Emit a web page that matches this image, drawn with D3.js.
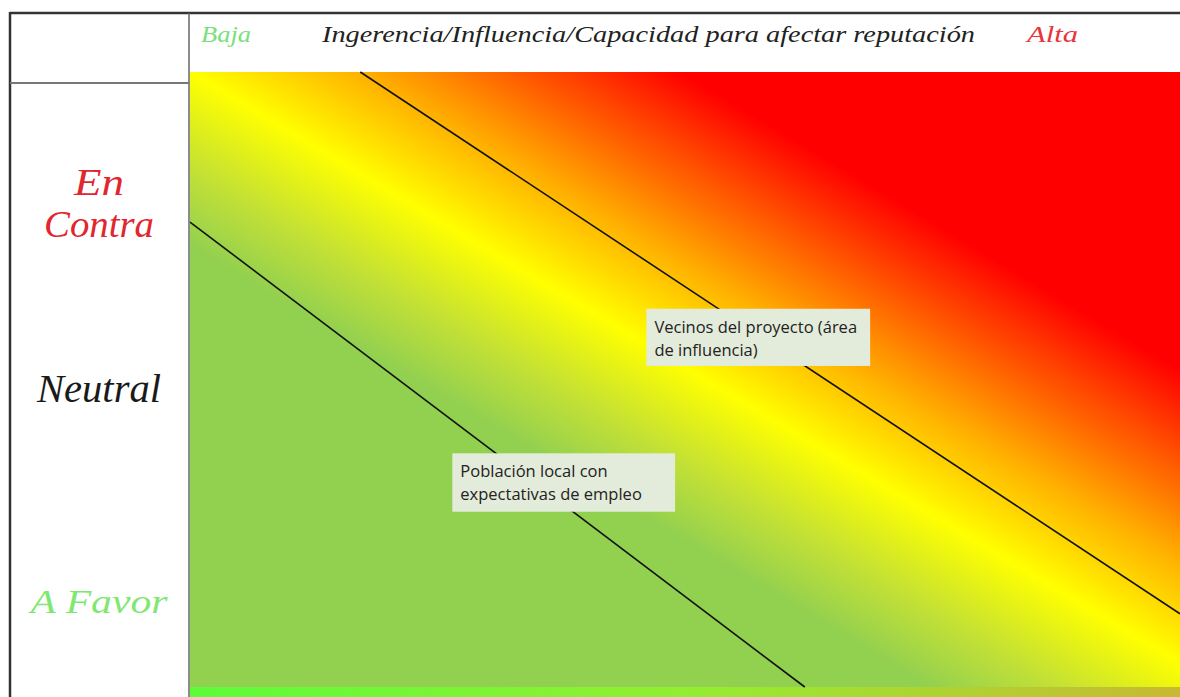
<!DOCTYPE html>
<html>
<head>
<meta charset="utf-8">
<script src="https://cdn.jsdelivr.net/npm/d3@7"></script>
<style>
  body { margin: 0; background: #fff; }
  svg { display: block; }
</style>
</head>
<body>
<svg id="chart" width="1180" height="697"></svg>
<script>
// header across the top
var headerLabels = ["Baja", "Ingerencia/Influencia/Capacidad para afectar reputación", "Alta"];
var headerX = [201, 322, 1027];          // left edge of each header word
var headerW = [50, 653, 51];
var headerColors = ["#79e07a", "#222", "#e8343a"];

// attitude rows on the left
var rowLabels = [["En", "Contra"], ["Neutral"], ["A Favor"]];
var rowColors = ["#e2262f", "#1a1a1a", "#80e872"];

// lines, in chart units (x: influence 0-100, y: attitude 0-100)
var lineA = [[17.2, 100], [100, 11.9]];
var lineB = [[0, 75.6], [62.1, 0]];

// stakeholder boxes
var boxNames = [["Vecinos del proyecto (área", "de influencia)"],
                ["Población local con", "expectativas de empleo"]];
var boxX = [[46.1, 68.7], [26.5, 49.0]];
var boxY = [[61.5, 52.2], [38.0, 28.5]];

var svg = d3.select("#chart");
var plotLeft = 190, plotRight = 1180, plotTop = 72, plotBottom = 687;

var x = d3.scaleLinear().domain([0, 100]).range([plotLeft, plotRight]);
var y = d3.scaleLinear().domain([0, 100]).range([plotBottom, plotTop]);

var defs = svg.append("defs");
var grad = defs.append("linearGradient")
    .attr("id", "heat")
    .attr("gradientUnits", "userSpaceOnUse")
    .attr("x1", 608).attr("y1", 496)
    .attr("x2", 818).attr("y2", 144);
grad.append("stop").attr("offset", 0).attr("stop-color", "#92d050");
grad.append("stop").attr("offset", 0.16).attr("stop-color", "#c2e036");
grad.append("stop").attr("offset", 0.366).attr("stop-color", "#ffff00");
grad.append("stop").attr("offset", 0.57).attr("stop-color", "#ffb400");
grad.append("stop").attr("offset", 0.98).attr("stop-color", "#ff0000");

var strip = defs.append("linearGradient").attr("id", "strip");
strip.append("stop").attr("offset", 0).attr("stop-color", "#5dfc3a");
strip.append("stop").attr("offset", 0.5).attr("stop-color", "#92ee30");
strip.append("stop").attr("offset", 1).attr("stop-color", "#c9b932");

svg.append("rect")
    .attr("x", x(0)).attr("y", y(100))
    .attr("width", x(100) - x(0)).attr("height", y(0) - y(100))
    .attr("fill", "url(#heat)");

svg.append("rect")
    .attr("x", x(0)).attr("y", y(0))
    .attr("width", x(100) - x(0)).attr("height", 697 - y(0))
    .attr("fill", "url(#strip)");

var line = d3.line()
    .x(function(d) { return x(d[0]); })
    .y(function(d) { return y(d[1]); });

[lineA, lineB].forEach(function(l) {
  svg.append("path")
      .attr("d", line(l))
      .attr("fill", "none")
      .attr("stroke", "#111")
      .attr("stroke-width", 1.6);
});

// frame
svg.append("line").attr("x1", 10).attr("x2", 1180).attr("y1", 13).attr("y2", 13)
    .attr("stroke", "#333").attr("stroke-width", 2.5);
svg.append("line").attr("x1", 10).attr("x2", 10).attr("y1", 12).attr("y2", 697)
    .attr("stroke", "#333").attr("stroke-width", 2.5);
svg.append("line").attr("x1", 189).attr("x2", 189).attr("y1", 13).attr("y2", 697)
    .attr("stroke", "#666").attr("stroke-width", 1.5);
svg.append("line").attr("x1", 10).attr("x2", 189).attr("y1", 83).attr("y2", 83)
    .attr("stroke", "#777").attr("stroke-width", 2);

// header text
svg.selectAll("text.head")
  .data(headerLabels)
  .enter().append("text")
    .attr("class", "head")
    .attr("x", function(d, i) { return headerX[i]; })
    .attr("y", 42)
    .attr("textLength", function(d, i) { return headerW[i]; })
    .attr("lengthAdjust", "spacingAndGlyphs")
    .attr("fill", function(d, i) { return headerColors[i]; })
    .style("font-family", "'Liberation Serif', serif")
    .style("font-style", "italic")
    .style("font-size", "23px")
    .text(function(d) { return d; });

// row labels
var rowY = [[195, 237], [402], [613]];
var rowSize = [38, 40, 34];
var rowW = [[50, 110], [124], [137]];
rowLabels.forEach(function(lines, i) {
  lines.forEach(function(t, j) {
    svg.append("text")
        .attr("x", 99 - rowW[i][j] / 2)
        .attr("y", rowY[i][j])
        .attr("textLength", rowW[i][j])
        .attr("lengthAdjust", "spacingAndGlyphs")
        .attr("fill", rowColors[i])
        .style("font-family", "'Liberation Serif', serif")
        .style("font-style", "italic")
        .style("font-size", rowSize[i] + "px")
        .text(t);
  });
});

// boxes
boxNames.forEach(function(lines, i) {
  var g = svg.append("g");
  g.append("rect")
      .attr("x", x(boxX[i][0])).attr("y", y(boxY[i][0]))
      .attr("width", x(boxX[i][1]) - x(boxX[i][0]))
      .attr("height", y(boxY[i][1]) - y(boxY[i][0]))
      .attr("fill", "#e3ebda");
  lines.forEach(function(t, j) {
    g.append("text")
        .attr("x", x(boxX[i][0]) + 8)
        .attr("y", y(boxY[i][0]) + 24 + j * 23)
        .attr("fill", "#222")
        .style("font-family", "'Open Sans', sans-serif")
        .style("font-size", "16.5px")
        .text(t);
  });
});
</script>
</body>
</html>
